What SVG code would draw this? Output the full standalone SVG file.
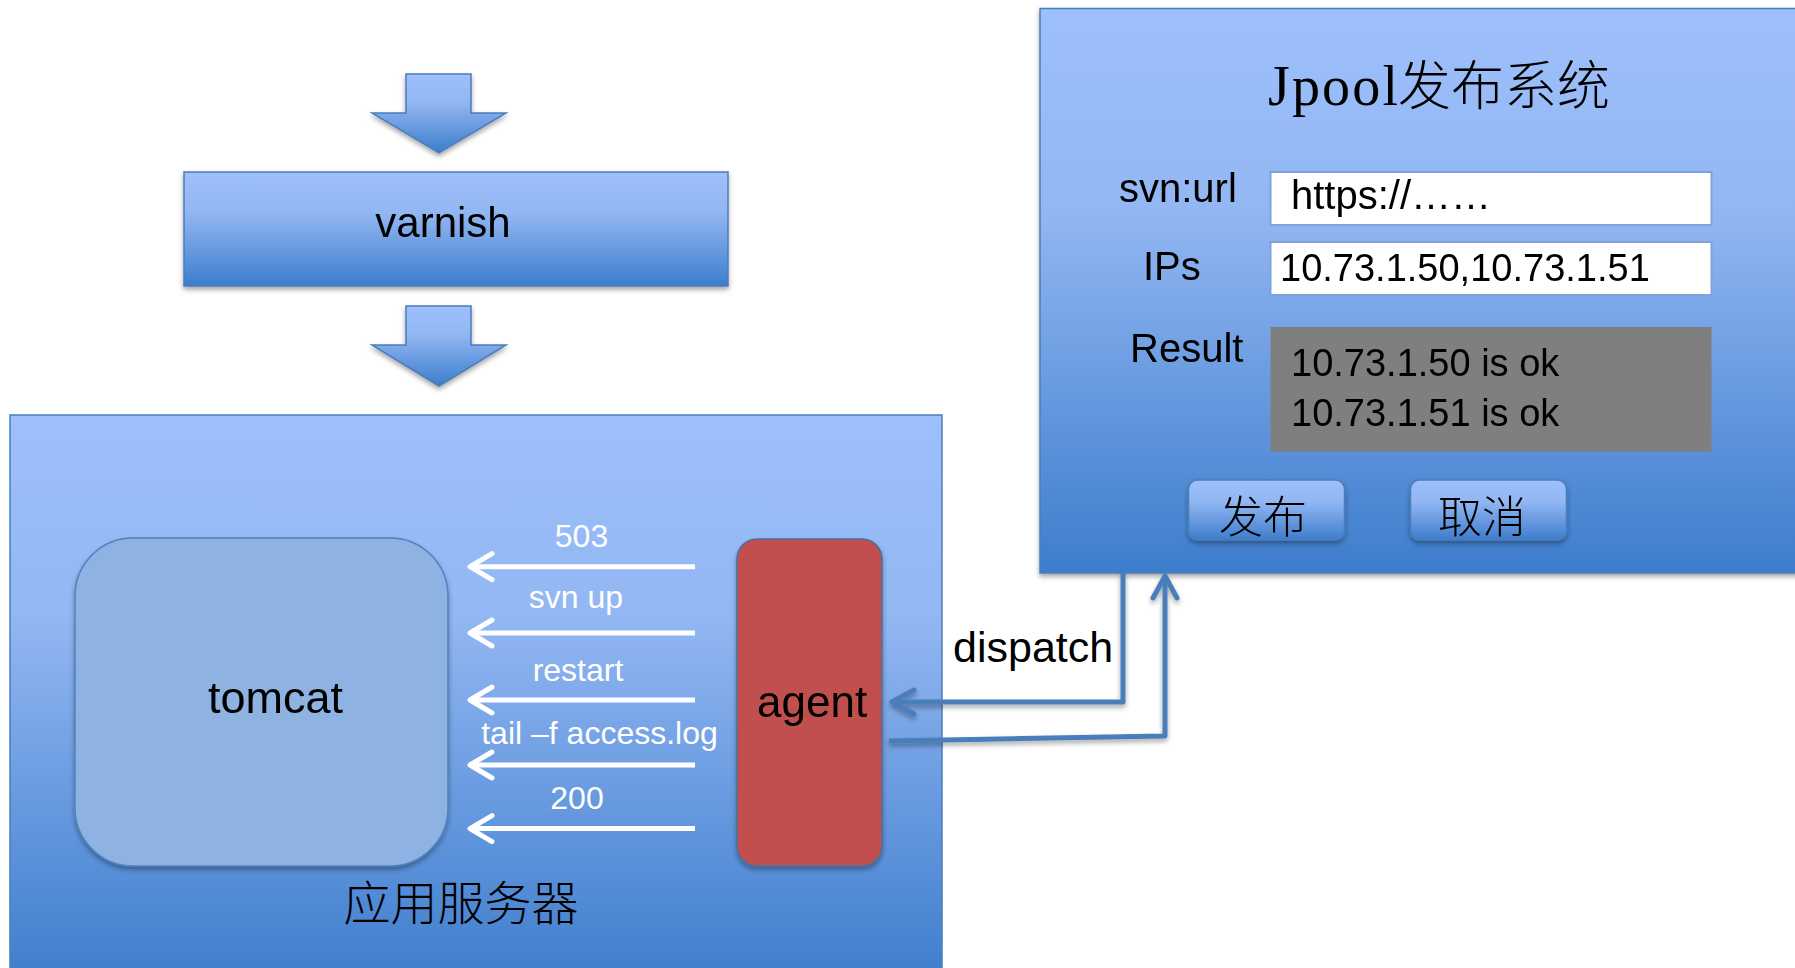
<svg xmlns="http://www.w3.org/2000/svg" width="1795" height="968" viewBox="0 0 1795 968">
<style>
.lat{font-family:"Liberation Sans",Arial,sans-serif;fill:#000}
.cjk{font-family:"Noto Sans CJK SC",sans-serif;fill:#000;font-weight:300}
.wl{font-family:"Liberation Sans",Arial,sans-serif;fill:#fff;font-size:32px;text-anchor:middle}
.blue{fill:url(#g);stroke:#4a7ebb;stroke-width:1.5}
.wa{stroke:#fff;stroke-width:5;fill:none}
.conn{stroke:#4a7ebb;stroke-width:5;fill:none;stroke-linejoin:round}
.field{fill:#fff;stroke:#7fa3d8;stroke-width:2}
</style>
<defs>
<linearGradient id="g" x1="0" y1="0" x2="0" y2="1">
<stop offset="0" stop-color="#9dc0fd"/>
<stop offset="0.35" stop-color="#93b7f3"/>
<stop offset="1" stop-color="#3d7dcc"/>
</linearGradient>
<filter id="sh" x="-10%" y="-10%" width="120%" height="130%">
<feDropShadow dx="0" dy="3" stdDeviation="2.5" flood-color="#000" flood-opacity="0.35"/>
</filter>
<marker id="wh" markerUnits="userSpaceOnUse" markerWidth="30" markerHeight="30" overflow="visible" orient="auto">
<path d="M-22,-13 L0,0 L-22,13" fill="none" stroke="#fff" stroke-width="5" stroke-linecap="round" stroke-linejoin="round"/>
</marker>
<marker id="bh" markerUnits="userSpaceOnUse" markerWidth="30" markerHeight="30" overflow="visible" orient="auto">
<path d="M-22,-12 L0,0 L-22,12" fill="none" stroke="#4a7ebb" stroke-width="5" stroke-linecap="round" stroke-linejoin="round"/>
</marker>
</defs>
<rect width="1795" height="968" fill="#fff"/>

<g id="arrow-in" filter="url(#sh)">
<polygon class="blue" points="406,74 471,74 471,113 506,113 439,153 372,113 406,113"/>
</g>
<g id="varnish" filter="url(#sh)">
<rect class="blue" x="184" y="172" width="544" height="114"/>
<text class="lat" x="443" y="237" font-size="42" text-anchor="middle">varnish</text>
</g>
<g id="arrow-down" filter="url(#sh)">
<polygon class="blue" points="406,306 471,306 471,345 506,345 439,386 372,345 406,345"/>
</g>

<g id="app-server">
<rect class="blue" x="10" y="415" width="932" height="570"/>
<text class="cjk" x="461" y="920" font-size="47" text-anchor="middle">应用服务器</text>
</g>
<g id="tomcat" filter="url(#sh)">
<rect x="75" y="538" width="373" height="328" rx="58" fill="#8eb3e2" stroke="#4f81bd" stroke-width="1.5"/>
<text class="lat" x="208" y="713" font-size="45">tomcat</text>
</g>
<g id="agent" filter="url(#sh)">
<rect x="737" y="539" width="145" height="327" rx="20" fill="#c0504d" stroke="#4a6fa0" stroke-width="1.5"/>
<text class="lat" x="757" y="717" font-size="44">agent</text>
</g>
<g id="commands">
<path class="wa" d="M695,566.7 H470" marker-end="url(#wh)"/>
<path class="wa" d="M695,633 H470" marker-end="url(#wh)"/>
<path class="wa" d="M695,700 H470" marker-end="url(#wh)"/>
<path class="wa" d="M695,765 H470" marker-end="url(#wh)"/>
<path class="wa" d="M695,828.6 H470" marker-end="url(#wh)"/>
<text class="wl" x="581.5" y="547">503</text>
<text class="wl" x="576" y="608">svn up</text>
<text class="wl" x="578" y="681">restart</text>
<text class="wl" x="599.5" y="743.5">tail –f access.log</text>
<text class="wl" x="577" y="809">200</text>
</g>

<g id="jpool" filter="url(#sh)">
<rect class="blue" x="1040" y="8.5" width="770" height="564.5"/>
<text x="1268" y="105" font-size="56" style="font-family:'Liberation Serif','Noto Sans CJK SC',serif;fill:#000"><tspan textLength="130" lengthAdjust="spacing">Jpool</tspan><tspan x="1398" font-size="53" style="font-family:'Noto Sans CJK SC',sans-serif;font-weight:300">发布系统</tspan></text>
<text class="lat" x="1119" y="202" font-size="40">svn:url</text>
<rect class="field" x="1270.5" y="172" width="441" height="53"/>
<text class="lat" x="1291" y="209" font-size="40">https://……</text>
<text class="lat" x="1143" y="280" font-size="40">IPs</text>
<rect class="field" x="1270.5" y="242" width="441" height="53"/>
<text class="lat" x="1280" y="281" font-size="38">10.73.1.50,10.73.1.51</text>
<text class="lat" x="1130" y="362" font-size="40">Result</text>
<rect x="1270.5" y="327" width="441" height="124.6" fill="#7f7f7f"/>
<text class="lat" x="1291" y="376" font-size="38">10.73.1.50 is ok</text>
<text class="lat" x="1291" y="426" font-size="38">10.73.1.51 is ok</text>
</g>
<g id="btn-publish" filter="url(#sh)">
<rect class="blue" x="1188.5" y="480" width="156" height="60" rx="9"/>
<text class="cjk" x="1263" y="533" font-size="44" text-anchor="middle">发布</text>
</g>
<g id="btn-cancel" filter="url(#sh)">
<rect class="blue" x="1410.5" y="480" width="156" height="60" rx="9"/>
<text class="cjk" x="1482" y="533" font-size="44" text-anchor="middle">取消</text>
</g>

<g id="connectors" filter="url(#sh)">
<path class="conn" d="M1123,573 V702 H892" marker-end="url(#bh)"/>
<path class="conn" d="M889,741 L1165,736 V576" marker-end="url(#bh)"/>
</g>
<text class="lat" x="953" y="662" font-size="43">dispatch</text>
</svg>
